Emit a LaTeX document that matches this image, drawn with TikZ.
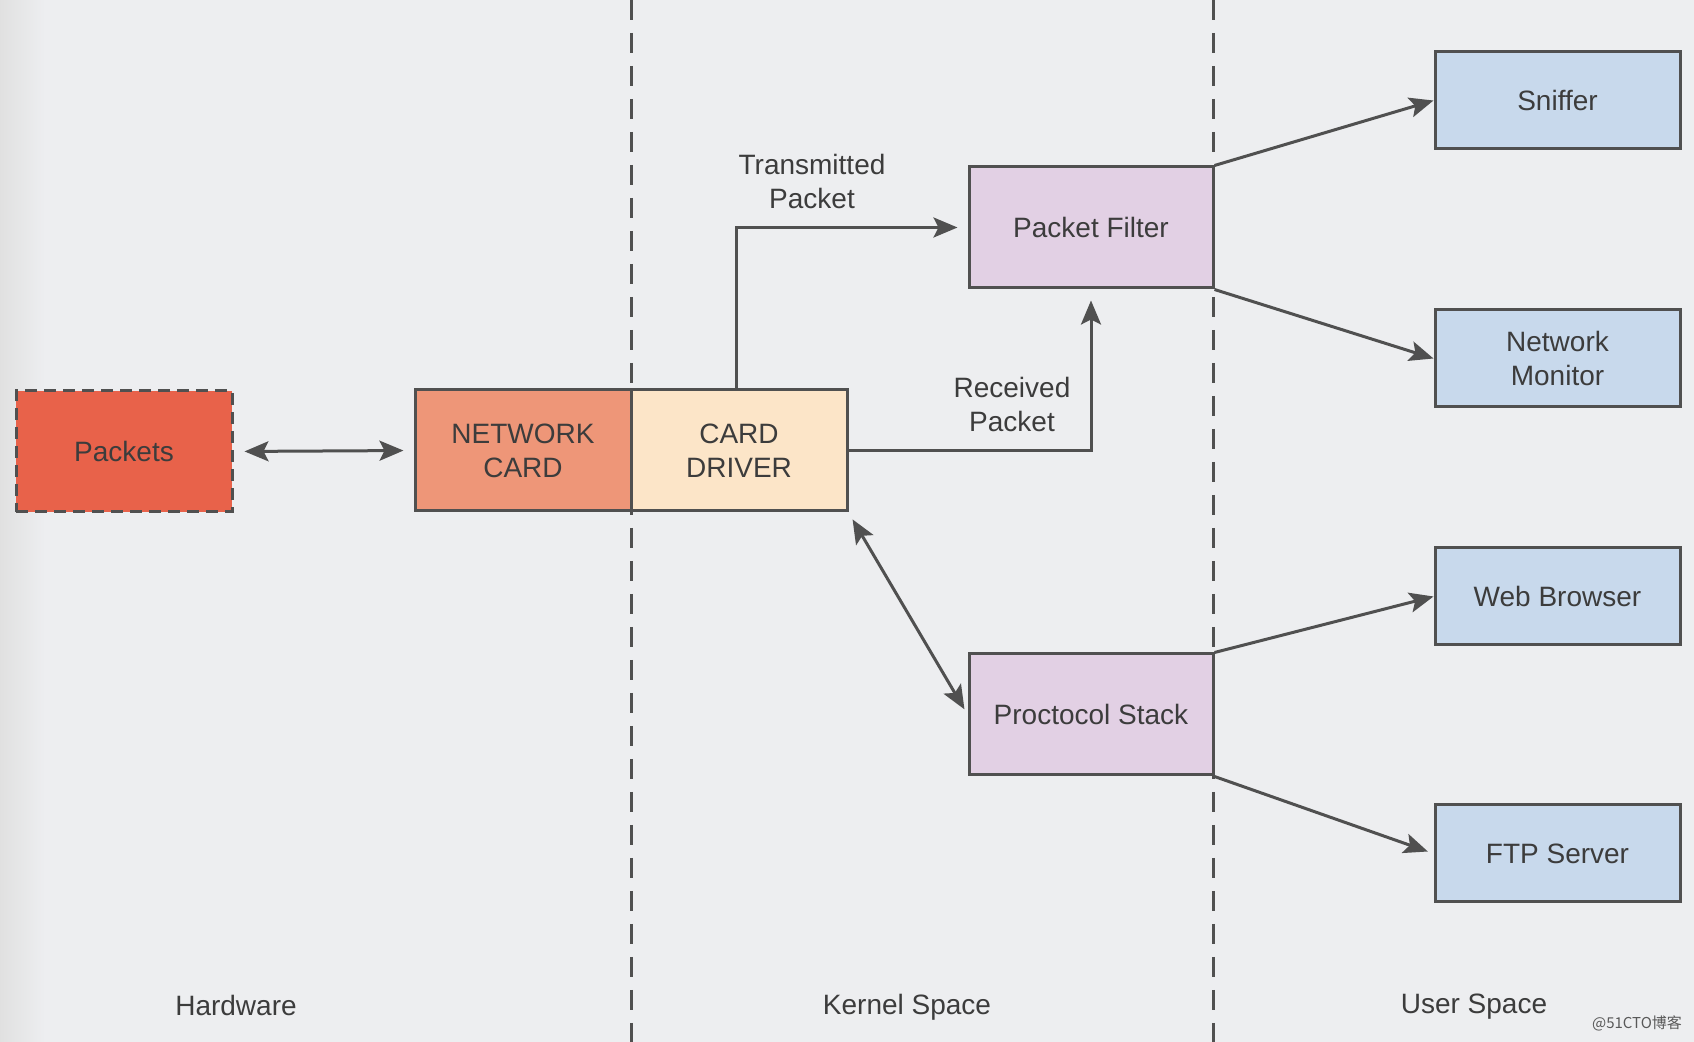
\documentclass[tikz,border=0pt]{standalone}
\usepackage{fontspec}
\setmainfont{Liberation Sans}
\newfontfamily\cjk{Noto Sans CJK SC}
\usetikzlibrary{arrows.meta,calc}
\definecolor{bg}{HTML}{EDEEF0}
\definecolor{linec}{HTML}{505050}
\definecolor{textc}{HTML}{3C3C3C}
\definecolor{pktfill}{HTML}{E8624A}
\definecolor{ncfill}{HTML}{EE9678}
\definecolor{cdfill}{HTML}{FCE5C8}
\definecolor{kfill}{HTML}{E2D0E4}
\definecolor{ufill}{HTML}{C8D9EC}
\tikzset{
  box/.style={draw=linec, line width=1.5pt, inner sep=0pt, align=center,
    font=\fontsize{14}{17}\selectfont, text=textc},
  bigbox/.style={box, minimum width=108pt, minimum height=60.5pt},
  kbox/.style={box, fill=kfill, minimum width=122pt, minimum height=60.5pt},
  ubox/.style={box, fill=ufill, minimum width=122.5pt, minimum height=48.5pt},
  tip/.style={Stealth[length=12pt,width=10pt,inset=2.5pt]},
  arr/.style={draw=linec, line width=1.5pt, -{Stealth[length=12pt,width=10pt,inset=2.5pt]}},
  darr/.style={draw=linec, line width=1.5pt, {Stealth[length=12pt,width=10pt,inset=2.5pt]}-{Stealth[length=12pt,width=10pt,inset=2.5pt]}},
  sep/.style={draw=linec, line width=1.5pt, dash pattern=on 10pt off 6.5pt},
  lbl/.style={font=\fontsize{14}{17}\selectfont, text=textc, align=center, inner sep=0pt}
}
\begin{document}
\begin{tikzpicture}[x=0.5pt,y=-0.5pt]
\fill[bg] (0,0) rectangle (1694,1042);
\shade[left color=black!12, right color=bg, draw=none] (0,0) rectangle (45,1042);
\useasboundingbox (0,0) rectangle (1694,1042);

% separators
\coordinate (s1t) at (631,0);
\coordinate (s1b) at (631,1042);
\coordinate (s2t) at (1213,0);
\coordinate (s2b) at (1213,1042);
\draw[sep] (s1t) -- (s1b);
\draw[sep] (s2t) -- (s2b);

% boxes
\node[bigbox, fill=pktfill, dash pattern=on 6pt off 3.5pt] (pk) at (124,451.5) {Packets};
\node[bigbox, fill=ncfill] (nc) at (523,450.5) {NETWORK\\CARD};
\node[bigbox, fill=cdfill] (cd) at (739,450.5) {CARD\\DRIVER};
\node[kbox] (pf) at (1091,227.5) {Packet Filter};
\node[kbox] (ps) at (1091,714.5) {Proctocol Stack};
\node[ubox] (sn) at (1557.5,100.5) {Sniffer};
\node[ubox] (nm) at (1557.5,358.5) {Network\\Monitor};
\node[ubox] (wb) at (1557.5,596.5) {Web Browser};
\node[ubox] (ftp) at (1557.5,853.5) {FTP Server};

% connectors
\draw[darr, shorten <=5.5pt, shorten >=5pt] (pk.east) -- (nc.west);
\draw[arr, shorten >=5pt] ([xshift=-1.5pt]cd.north) |- (pf.west);
\draw[arr, shorten >=5.5pt] (cd.east) -| (pf.south);
\draw[darr, shorten <=4pt, shorten >=3pt] (cd.south east) -- (ps.west);
\draw[arr] (pf.north east) -- (sn.west);
\draw[arr] (pf.south east) -- (nm.west);
\draw[arr] (ps.north east) -- (wb.west);
\draw[arr, shorten >=3pt] (ps.south east) -- (ftp.west);

% labels
\node[lbl] (tx) at (812,181) {Transmitted\\Packet};
\node[lbl] (rx) at (1012,404) {Received\\Packet};
\node[lbl] (hw) at (236,1005) {Hardware};
\node[lbl] (ks) at (907,1007) {Kernel Space};
\node[lbl] (us) at (1474,1007) {User Space};
\node[font=\cjk\fontsize{7.5}{9}\selectfont, text=black!65, inner sep=0pt] (wm) at (1637,1023) {@51CTO博客};
\end{tikzpicture}
\end{document}
